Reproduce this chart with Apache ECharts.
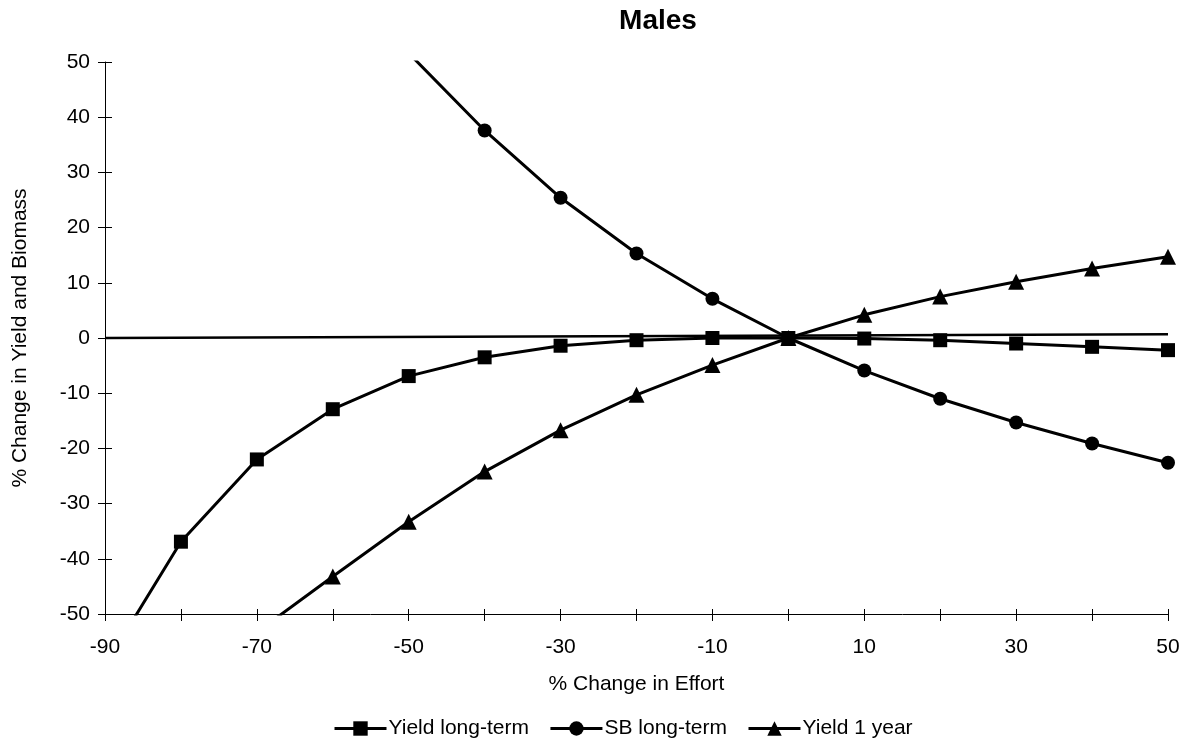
<!DOCTYPE html>
<html>
<head>
<meta charset="utf-8">
<script src="https://cdn.jsdelivr.net/npm/echarts@6/dist/echarts.min.js"></script>
<style>
html,body{margin:0;padding:0;background:#fff;}
#chart{width:1190px;height:744px;}
</style>
</head>
<body>
<div id="chart"></div>
<script>
// ---- data ----
const titleText = 'Males';
const xAxisName = '% Change in Effort';
const yAxisName = '% Change in Yield and Biomass';
const seriesNames = ['Yield long-term', 'SB long-term', 'Yield 1 year'];

const effortYieldLT = [-90, -80, -70, -60, -50, -40, -30, -20, -10, 0, 10, 20, 30, 40, 50];
const yieldLongTerm = [-59.4, -36.9, -22.0, -12.9, -6.9, -3.5, -1.4, -0.4, 0.0, 0, -0.1, -0.4, -1.0, -1.6, -2.2];

const effortSB = [-50, -40, -30, -20, -10, 0, 10, 20, 30, 40, 50];
const sbLongTerm = [51.6, 37.6, 25.4, 15.3, 7.1, 0, -5.9, -11.0, -15.3, -19.1, -22.6];

const effortY1 = [-70, -60, -50, -40, -30, -20, -10, 0, 10, 20, 30, 40, 50];
const yield1Year = [-53.3, -43.2, -33.3, -24.2, -16.7, -10.3, -4.9, 0, 4.2, 7.5, 10.2, 12.6, 14.7];

const refLineX = [-90, 50];
const refLineY = [0, 0.7];

const xMin = -90, xMax = 50, xStep = 10, xLabelStep = 20;
const yMin = -50, yMax = 50, yStep = 10;

// ---- chart ----
const FONT = '"Liberation Sans", Arial, Helvetica, sans-serif';
const zip = (xs, ys) => xs.map((x, i) => [x, ys[i]]);

const chart = echarts.init(document.getElementById('chart'), null, {renderer: 'canvas'});

const lineSeries = (name, xs, ys, symbol, size) => ({
  name, type: 'line', data: zip(xs, ys),
  symbol, symbolSize: size, showSymbol: true,
  clip: true,
  lineStyle: {color: '#000', width: 3},
  itemStyle: {color: '#000', borderColor: '#000', borderWidth: 0},
  emphasis: {disabled: true},
  z: 3
});

const option = {
  animation: false,
  backgroundColor: '#fff',
  textStyle: {fontFamily: FONT, color: '#000'},
  title: {
    text: titleText,
    left: 653, top: 2, textAlign: 'center',
    textStyle: {fontFamily: FONT, fontWeight: 'bold', fontSize: 28, color: '#000'}
  },
  legend: {
    data: seriesNames,
    left: 328, top: 713,
    itemWidth: 52, itemHeight: 18, itemGap: 20,
    lineStyle: {width: 3, color: '#000'},
    itemStyle: {color: '#000'},
    textStyle: {fontFamily: FONT, fontSize: 21, color: '#000', padding: [0, 0, 0, -3]},
    inactiveColor: '#000'
  },
  grid: {left: 105, right: 22, top: 62, bottom: 130, containLabel: false},
  xAxis: [
    {
      type: 'value', min: xMin, max: xMax, interval: xStep,
      name: xAxisName, nameLocation: 'middle', nameGap: 60,
      nameTextStyle: {fontFamily: FONT, fontSize: 21, color: '#000'},
      axisLine: {show: true, onZero: false, lineStyle: {color: '#000', width: 1}},
      axisTick: {show: true, length: 7, lineStyle: {color: '#000', width: 1}},
      axisLabel: {
        fontFamily: FONT, fontSize: 21, color: '#000', margin: 23,
        formatter: v => ((v - xMin) % xLabelStep === 0 ? String(v) : '')
      },
      splitLine: {show: false}
    },
    {
      type: 'value', min: xMin, max: xMax, interval: xStep, position: 'bottom',
      axisLine: {show: false, onZero: false},
      axisTick: {show: true, inside: true, length: 5, lineStyle: {color: '#000', width: 1}},
      axisLabel: {show: false},
      splitLine: {show: false}
    }
  ],
  yAxis: [
    {
      type: 'value', min: yMin, max: yMax, interval: yStep,
      name: yAxisName, nameLocation: 'middle', nameGap: 74,
      nameTextStyle: {fontFamily: FONT, fontSize: 21, color: '#000'},
      axisLine: {show: true, onZero: false, lineStyle: {color: '#000', width: 1}},
      axisTick: {show: true, length: 7, lineStyle: {color: '#000', width: 1}},
      axisLabel: {fontFamily: FONT, fontSize: 21, color: '#000', margin: 15},
      splitLine: {show: false}
    },
    {
      type: 'value', min: yMin, max: yMax, interval: yStep, position: 'left',
      axisLine: {show: false, onZero: false},
      axisTick: {show: true, inside: true, length: 7, lineStyle: {color: '#000', width: 1}},
      axisLabel: {show: false},
      splitLine: {show: false}
    }
  ],
  series: [
    {
      name: 'zero', type: 'line', data: zip(refLineX, refLineY),
      symbol: 'none', lineStyle: {color: '#000', width: 2.5},
      emphasis: {disabled: true}, z: 2
    },
    lineSeries(seriesNames[0], effortYieldLT, yieldLongTerm, 'rect', 14),
    lineSeries(seriesNames[1], effortSB, sbLongTerm, 'circle', 14),
    lineSeries(seriesNames[2], effortY1, yield1Year, 'triangle', 16)
  ]
};
chart.setOption(option);
</script>
</body>
</html>
